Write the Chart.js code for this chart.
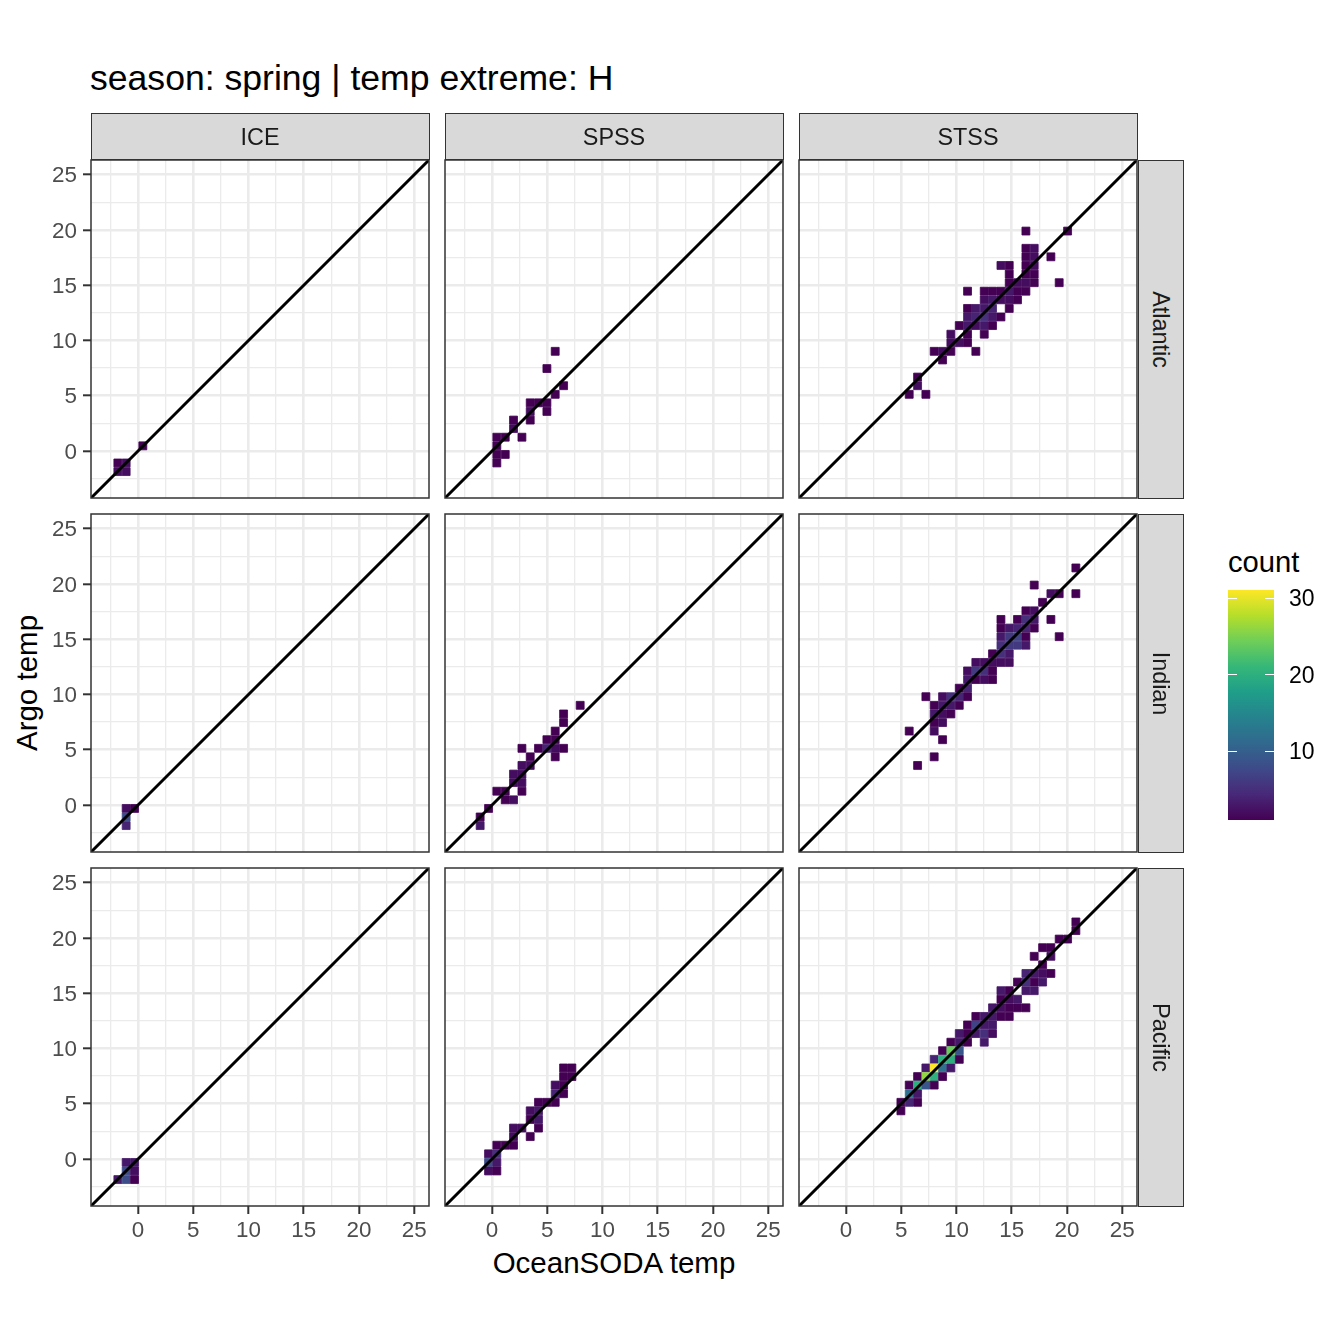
<!DOCTYPE html>
<html>
<head>
<meta charset="utf-8">
<script src="https://cdn.jsdelivr.net/npm/chart.js@4"></script>
<style>
  html, body { margin: 0; padding: 0; background: #fff; }
  body { width: 1344px; height: 1344px; position: relative; overflow: hidden; font-family: 'Liberation Sans', sans-serif; }
  canvas { position: absolute; }
  .txt { position: absolute; white-space: nowrap; line-height: 1; }
  .strip { position: absolute; box-sizing: border-box; background: #d9d9d9; border: 1.5px solid #333; color: #1a1a1a; font-size: 23.4px; display: flex; align-items: center; justify-content: center; }
  .strip span { display: block; white-space: nowrap; }
</style>
</head>
<body>
<div class="txt" style="left:90px;top:61px;font-size:35.6px;color:#000">season: spring | temp extreme: H</div>
<div class="txt" style="left:614px;top:1248px;font-size:29.5px;color:#000;transform:translateX(-50%)">OceanSODA temp</div>
<div class="txt" style="left:27px;top:683px;font-size:29.5px;color:#000;transform:translate(-50%,-50%) rotate(-90deg)">Argo temp</div>
<div class="txt" style="left:1228px;top:548px;font-size:29.2px;color:#000">count</div>
<script>
// bin centres (deg C), cells below point into these
const xBins = [-2.57,-1.82,-1.07,-0.31,0.44,1.20,1.95,2.71,3.46,4.21,4.97,5.72,6.48,7.23,7.98,8.74,
  9.49,10.25,11.00,11.75,12.51,13.26,14.02,14.77,15.52,16.28,17.03,17.79,18.54,19.29,20.05,20.80];
const yBins = [-1.86,-1.08,-0.31,0.47,1.25,2.03,2.80,3.58,4.36,5.13,5.91,6.69,7.46,8.24,9.02,9.80,
  10.57,11.35,12.13,12.90,13.68,14.46,15.23,16.01,16.79,17.57,18.34,19.12,19.90,20.67,21.45];

const basins = ['Atlantic', 'Indian', 'Pacific'];
const clusters = ['ICE', 'SPSS', 'STSS'];
const gridValues = [-2.5,0,2.5,5,7.5,10,12.5,15,17.5,20,22.5,25];
const axisRange = [-4.25, 26.33];
const legendTicks = [10, 20, 30];
const countRange = [1, 31];

// [x bin, y bin, count]
const atlanticIce = [[1,1,1],[2,1,2],[1,0,2],[2,0,2],[4,3,1]];
const indianIce = [[2,2,2],[3,2,1],[2,1,8],[2,0,4]];
const pacificIce = [[2,2,3],[3,2,3],[2,1,8],[3,1,2],[1,0,3],[2,0,8],[3,0,1]];

const atlanticSpss = [[11,14,1],[10,12,1],[12,10,1],[11,9,1],[8,8,1],[9,8,1],[10,8,1],[8,7,2],[10,7,1],
  [8,6,1],[6,6,1],[6,5,2],[4,4,1],[5,4,1],[7,4,1],[4,3,1],[4,2,1],[5,2,1],[4,1,1]];
const indianSpss = [[14,14,1],[12,13,1],[12,12,1],[11,11,1],[10,10,1],[11,10,1],
  [7,9,1],[9,9,1],[10,9,4],[11,9,2],[12,9,1],[8,8,1],[11,8,1],[7,7,2],[8,7,2],[6,6,2],[7,6,2],
  [6,5,2],[7,5,2],[4,4,1],[5,4,1],[7,4,1],[5,3,1],[6,3,2],[3,2,1],[2,1,1],[2,0,3]];
const pacificSpss = [[12,13,1],[13,13,1],[12,12,1],[13,12,1],[11,11,2],[12,11,1],[11,10,4],[12,10,1],
  [9,9,1],[10,9,1],[11,9,1],[8,8,2],[9,8,3],[8,7,1],[9,7,3],[6,6,2],[7,6,2],[9,6,1],
  [6,5,2],[8,5,1],[4,4,1],[5,4,1],[6,4,1],[3,3,2],[4,3,5],[3,2,8],[4,2,3],[3,1,2],[4,1,1]];

const atlanticStss = [[25,28,1],[30,28,1],[25,26,1],[26,26,2],[25,25,1],[26,25,2],[28,25,1],
  [22,24,2],[23,24,1],[25,24,1],[26,24,2],[23,23,1],[25,23,1],[26,23,1],
  [23,22,1],[24,22,2],[25,22,2],[26,22,1],[29,22,1],
  [18,21,1],[20,21,1],[21,21,1],[22,21,1],[23,21,3],[24,21,1],[25,21,1],
  [20,20,2],[21,20,3],[22,20,2],[23,20,2],[24,20,1],
  [18,19,1],[19,19,3],[20,19,3],[21,19,4],[23,19,1],
  [18,18,3],[19,18,4],[20,18,5],[21,18,3],[22,18,1],
  [17,17,1],[18,17,3],[19,17,2],[20,17,3],[21,17,1],
  [16,16,2],[18,16,1],[20,16,1],[16,15,2],[17,15,2],[18,15,1],
  [14,14,1],[15,14,2],[16,14,1],[19,14,1],[15,13,1],[12,11,1],[12,10,2],[11,9,1],[13,9,1]];
const indianStss = [[31,30,1],[26,28,1],[28,27,2],[29,27,1],[31,27,1],[27,26,1],[25,25,1],[26,25,2],
  [22,24,1],[24,24,1],[25,24,5],[26,24,3],[28,24,1],
  [22,23,1],[23,23,3],[24,23,4],[25,23,4],[26,23,1],
  [22,22,3],[23,22,6],[24,22,7],[25,22,1],[29,22,1],
  [22,21,5],[23,21,6],[24,21,6],[25,21,3],[21,20,1],[22,20,5],[23,20,3],
  [19,19,2],[20,19,2],[21,19,2],[22,19,2],[23,19,2],
  [18,18,2],[19,18,6],[20,18,5],[21,18,1],[18,17,3],[19,17,1],[20,17,2],[21,17,1],
  [17,16,1],[18,16,4],[13,15,1],[15,15,2],[16,15,5],[17,15,4],[18,15,1],
  [14,14,1],[15,14,3],[16,14,3],[17,14,1],[14,13,3],[15,13,2],[16,13,1],
  [14,12,1],[15,12,2],[14,11,2],[11,11,1],[15,10,1],[14,8,1],[12,7,1]];
const pacificStss = [[31,30,1],[31,29,1],[29,28,1],[30,28,1],[27,27,1],[28,27,1],[26,26,1],[28,26,2],[27,25,1],
  [25,24,4],[26,24,3],[27,24,2],[28,24,1],[24,23,1],[25,23,5],[26,23,1],[27,23,3],
  [22,22,3],[23,22,1],[25,22,3],[26,22,3],[22,21,1],[23,21,2],[24,21,3],
  [21,20,3],[22,20,2],[23,20,1],[24,20,1],[25,20,1],
  [19,19,1],[20,19,3],[21,19,3],[22,19,1],[23,19,1],[18,18,1],[19,18,7],[20,18,3],[21,18,3],
  [17,17,3],[18,17,1],[19,17,3],[20,17,5],[21,17,2],[16,16,1],[17,16,3],[18,16,1],[20,16,3],
  [15,15,1],[16,15,24],[17,15,9],[14,14,4],[15,14,20],[16,14,20],[17,14,1],
  [13,13,3],[14,13,31],[15,13,12],[16,13,3],[12,12,1],[13,12,26],[14,12,20],[15,12,1],
  [11,11,1],[12,11,20],[13,11,9],[14,11,1],[11,10,12],[12,10,3],[10,9,1],[11,9,4],[12,9,1],[10,8,1]];

const panelData = [
  [atlanticIce, atlanticSpss, atlanticStss],
  [indianIce, indianSpss, indianStss],
  [pacificIce, pacificSpss, pacificStss]
];

const colLeft = [91, 445, 799];
const rowTop = [160, 514, 868];
const panelSize = 338;

const viridis = ['#440154','#482878','#3e4a89','#31688e','#26828e','#1f9e89','#35b779','#6ece58','#b5de2b','#fde725'];

function hexRgb(h) {
  return [parseInt(h.slice(1,3),16), parseInt(h.slice(3,5),16), parseInt(h.slice(5,7),16)];
}
function countColor(n) {
  const t = (n - countRange[0]) / (countRange[1] - countRange[0]) * (viridis.length - 1);
  const i = Math.min(Math.floor(t), viridis.length - 2);
  const a = hexRgb(viridis[i]), b = hexRgb(viridis[i + 1]), f = t - i;
  return 'rgb(' + a.map((v, k) => Math.round(v + (b[k] - v) * f)).join(',') + ')';
}

// tick labels must not push the chart area in
function noPadding(s) {
  s.paddingTop = s.paddingBottom = s.paddingLeft = s.paddingRight = 0;
}

const panelBorder = {
  id: 'panelBorder',
  afterDraw(chart) {
    const { ctx, chartArea: a } = chart;
    ctx.save();
    ctx.strokeStyle = '#333';
    ctx.lineWidth = 1.5;
    ctx.strokeRect(a.left, a.top, a.right - a.left, a.bottom - a.top);
    ctx.restore();
  }
};

function axisOptions(showTicks, size, isX) {
  return {
    type: 'linear',
    min: axisRange[0],
    max: axisRange[1],
    afterBuildTicks: s => { s.ticks = gridValues.map(value => ({ value })); },
    afterFit: s => {
      if (isX) s.height = size; else s.width = size;
      noPadding(s);
    },
    border: { display: false },
    grid: {
      color: '#ebebeb',
      lineWidth: c => (c.tick && c.tick.value % 5 === 0 ? 2.6 : 1.3),
      drawTicks: showTicks,
      tickLength: 8,
      tickWidth: 2,
      tickColor: c => (c.tick && c.tick.value % 5 === 0 ? '#333' : 'rgba(0,0,0,0)')
    },
    ticks: {
      display: showTicks,
      autoSkip: false,
      maxRotation: 0,
      padding: isX ? 3 : 6,
      labelOffset: isX ? 0 : 1.5,
      color: '#4d4d4d',
      font: { family: 'Liberation Sans', size: 22.4 },
      callback: v => (v % 5 === 0 ? String(v) : '')
    }
  };
}

function addCanvas(left, top, w, h) {
  const c = document.createElement('canvas');
  c.width = w;
  c.height = h;
  c.style.left = left + 'px';
  c.style.top = top + 'px';
  c.style.width = w + 'px';
  c.style.height = h + 'px';
  document.body.appendChild(c);
  return c;
}

panelData.forEach((row, r) => {
  row.forEach((cells, c) => {
    const ml = c === 0 ? 60 : 2;
    const mb = r === 2 ? 44 : 2;
    const canvas = addCanvas(colLeft[c] - ml, rowTop[r] - 2, ml + panelSize + 2, 2 + panelSize + mb);
    new Chart(canvas, {
      type: 'scatter',
      data: {
        datasets: [
          {
            data: axisRange.map(v => ({ x: v, y: v })),
            showLine: true,
            borderColor: '#000',
            borderWidth: 3,
            pointRadius: 0
          },
          {
            data: cells.map(d => ({ x: xBins[d[0]], y: yBins[d[1]], n: d[2] })),
            pointStyle: 'rect',
            pointRadius: 5.6,
            pointBorderWidth: 0.8,
            pointBackgroundColor: ctx => countColor(ctx.raw.n),
            pointBorderColor: ctx => countColor(ctx.raw.n)
          }
        ]
      },
      options: {
        responsive: false,
        animation: false,
        devicePixelRatio: 1,
        layout: { autoPadding: false, padding: { top: 2, right: 2 } },
        plugins: { legend: { display: false }, tooltip: { enabled: false } },
        events: [],
        scales: {
          x: axisOptions(r === 2, mb, true),
          y: axisOptions(c === 0, ml, false)
        }
      },
      plugins: [panelBorder]
    });
  });
});

// strips
clusters.forEach((name, c) => {
  const d = document.createElement('div');
  d.className = 'strip';
  d.style.cssText = `left:${colLeft[c] - 0.5}px;top:113px;width:${panelSize + 1}px;height:46.5px`;
  d.innerHTML = `<span style="position:relative;top:1px">${name}</span>`;
  document.body.appendChild(d);
});
basins.forEach((name, r) => {
  const d = document.createElement('div');
  d.className = 'strip';
  d.style.cssText = `left:1137.5px;top:${rowTop[r] - 0.5}px;width:46.5px;height:${panelSize + 1}px`;
  d.innerHTML = `<span style="transform:rotate(90deg)">${name}</span>`;
  document.body.appendChild(d);
});

// colour bar
const legendTickMarks = {
  id: 'legendTickMarks',
  afterDatasetsDraw(chart) {
    const { ctx, chartArea: a, scales } = chart;
    ctx.save();
    ctx.strokeStyle = '#fff';
    ctx.lineWidth = 1;
    legendTicks.forEach(v => {
      const y = Math.round(scales.y.getPixelForValue(v)) + 0.5;
      ctx.beginPath();
      ctx.moveTo(a.left, y);
      ctx.lineTo(a.left + 9, y);
      ctx.moveTo(a.right - 9, y);
      ctx.lineTo(a.right, y);
      ctx.stroke();
    });
    ctx.restore();
  }
};

new Chart(addCanvas(1228, 576, 116, 258), {
  type: 'bar',
  data: {
    labels: ['count'],
    datasets: [{
      data: [countRange],
      barPercentage: 1,
      categoryPercentage: 1,
      borderWidth: 0,
      backgroundColor: ctx => {
        const a = ctx.chart.chartArea;
        if (!a) return viridis[0];
        const g = ctx.chart.ctx.createLinearGradient(0, a.bottom, 0, a.top);
        viridis.forEach((col, i) => g.addColorStop(i / (viridis.length - 1), col));
        return g;
      }
    }]
  },
  options: {
    responsive: false,
    animation: false,
    devicePixelRatio: 1,
    layout: { autoPadding: false, padding: { top: 14, bottom: 14 } },
    plugins: { legend: { display: false }, tooltip: { enabled: false } },
    events: [],
    scales: {
      x: { display: false },
      y: {
        position: 'right',
        min: countRange[0],
        max: countRange[1],
        afterBuildTicks: s => { s.ticks = legendTicks.map(value => ({ value })); },
        afterFit: s => { s.width = 70; noPadding(s); },
        border: { display: false },
        grid: { display: false },
        ticks: {
          padding: 7,
          labelOffset: 2,
          color: '#000',
          font: { family: 'Liberation Sans', size: 23 }
        }
      }
    }
  },
  plugins: [legendTickMarks]
});
</script>
</body>
</html>
